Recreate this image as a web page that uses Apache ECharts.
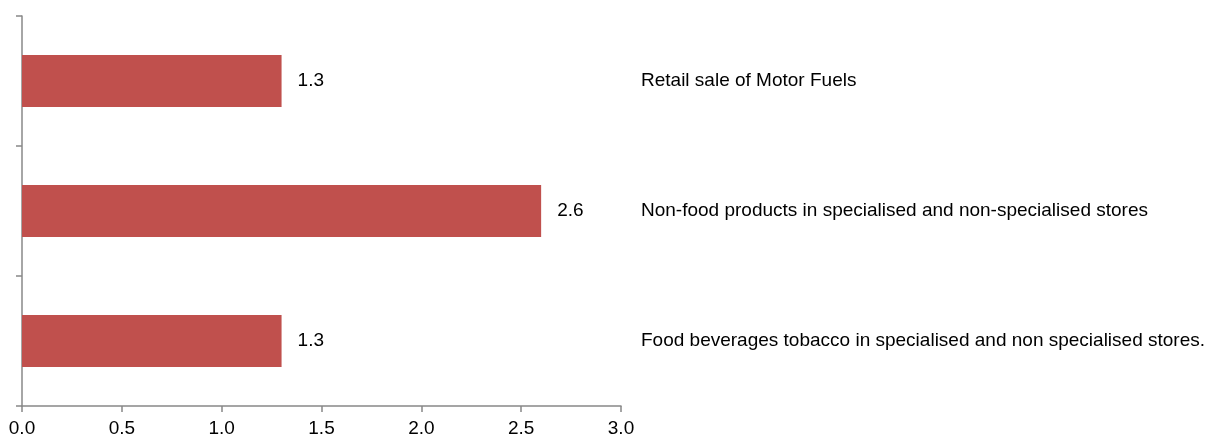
<!DOCTYPE html>
<html>
<head>
<meta charset="utf-8">
<script src="https://cdn.jsdelivr.net/npm/echarts@6/dist/echarts.min.js"></script>
<style>
  html, body { margin: 0; padding: 0; background: #fff; }
  #chart { width: 1213px; height: 443px; }
</style>
</head>
<body>
<div id="chart"></div>
<script>
// top to bottom
const categories = [
    'Retail sale of Motor Fuels',
    'Non-food products in specialised and non-specialised stores',
    'Food beverages tobacco in specialised and non specialised stores.'
];
const values = [1.3, 2.6, 1.3];
const xTicks = {min: 0, max: 3, interval: 0.5};

const myChart = echarts.init(document.getElementById('chart'));
const font = 'Liberation Sans';
const axisGray = '#888888';

const option = {
    animation: false,
    textStyle: {fontFamily: font},
    grid: {
        left: 22,
        right: 592,
        top: 16,
        bottom: 37,
        containLabel: false,
        outerBoundsMode: 'none'
    },
    xAxis: {
        type: 'value',
        min: xTicks.min,
        max: xTicks.max,
        interval: xTicks.interval,
        axisLine: {show: true, lineStyle: {color: axisGray, width: 1.5}},
        axisTick: {show: true, length: 6, lineStyle: {color: axisGray, width: 1.5}},
        splitLine: {show: false},
        axisLabel: {
            color: '#000',
            fontSize: 19,
            fontFamily: font,
            margin: 13,
            formatter: v => v.toFixed(1)
        }
    },
    yAxis: [
        {
            type: 'category',
            inverse: true,
            data: categories,
            position: 'left',
            axisLine: {show: true, lineStyle: {color: axisGray, width: 1.5}},
            axisTick: {show: true, length: 6, lineStyle: {color: axisGray, width: 1.5}},
            axisLabel: {show: false}
        },
        {
            type: 'category',
            inverse: true,
            data: categories,
            position: 'right',
            axisLine: {show: false},
            axisTick: {show: false},
            axisLabel: {
                color: '#000',
                fontSize: 19,
                fontFamily: font,
                margin: 20,
                align: 'left'
            }
        }
    ],
    series: [
        {
            type: 'bar',
            yAxisIndex: 0,
            data: values,
            barWidth: '40%',
            itemStyle: {color: '#C0504D'},
            label: {
                show: true,
                position: 'right',
                distance: 16,
                color: '#000',
                fontSize: 19,
                fontFamily: font,
                formatter: p => p.value.toFixed(1)
            }
        }
    ]
};

option && myChart.setOption(option);
</script>
</body>
</html>
